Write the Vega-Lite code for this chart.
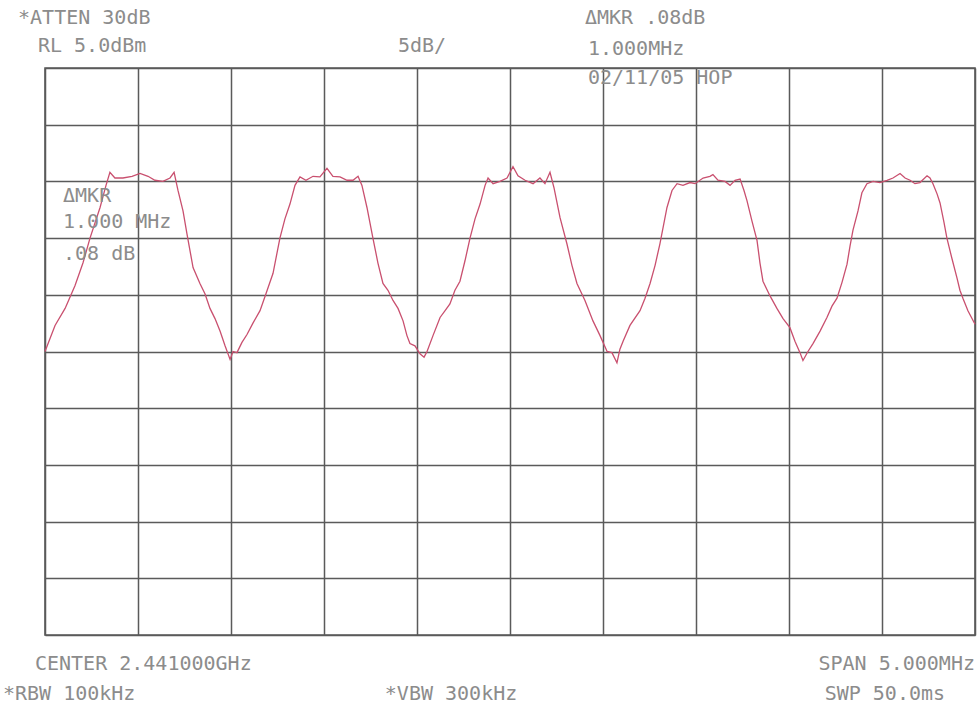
{
  "$schema": "https://vega.github.io/schema/vega-lite/v6.json",
  "width": 930,
  "height": 567,
  "autosize": {"type": "none"},
  "padding": {"left": 45, "top": 68, "right": 3, "bottom": 81},
  "background": "#ffffff",
  "config": {"view": {"stroke": "#5a5a5a", "strokeWidth": 1.6}},
  "datasets": {
    "trace": [
      {"freq": 2438.500, "dbm": -20.0}, {"freq": 2438.554, "dbm": -17.7}, {"freq": 2438.608, "dbm": -16.2},
      {"freq": 2438.661, "dbm": -14.2}, {"freq": 2438.704, "dbm": -12.2}, {"freq": 2438.742, "dbm": -10.0},
      {"freq": 2438.796, "dbm": -7.3}, {"freq": 2438.828, "dbm": -5.35}, {"freq": 2438.849, "dbm": -4.2},
      {"freq": 2438.876, "dbm": -4.7}, {"freq": 2438.919, "dbm": -4.7}, {"freq": 2438.968, "dbm": -4.55},
      {"freq": 2439.011, "dbm": -4.3}, {"freq": 2439.054, "dbm": -4.55}, {"freq": 2439.091, "dbm": -4.9},
      {"freq": 2439.134, "dbm": -5.0}, {"freq": 2439.172, "dbm": -4.7}, {"freq": 2439.194, "dbm": -4.2},
      {"freq": 2439.215, "dbm": -5.8}, {"freq": 2439.242, "dbm": -7.6}, {"freq": 2439.263, "dbm": -9.6},
      {"freq": 2439.296, "dbm": -12.6}, {"freq": 2439.333, "dbm": -14.0}, {"freq": 2439.360, "dbm": -14.9},
      {"freq": 2439.387, "dbm": -16.2}, {"freq": 2439.414, "dbm": -17.1}, {"freq": 2439.441, "dbm": -18.2},
      {"freq": 2439.468, "dbm": -19.5}, {"freq": 2439.495, "dbm": -20.7}, {"freq": 2439.511, "dbm": -20.0},
      {"freq": 2439.532, "dbm": -20.1}, {"freq": 2439.559, "dbm": -19.2}, {"freq": 2439.586, "dbm": -18.5},
      {"freq": 2439.618, "dbm": -17.5}, {"freq": 2439.656, "dbm": -16.4}, {"freq": 2439.688, "dbm": -14.9},
      {"freq": 2439.726, "dbm": -13.1}, {"freq": 2439.763, "dbm": -10.0}, {"freq": 2439.790, "dbm": -8.3},
      {"freq": 2439.817, "dbm": -7.0}, {"freq": 2439.844, "dbm": -5.35}, {"freq": 2439.871, "dbm": -4.6},
      {"freq": 2439.903, "dbm": -4.9}, {"freq": 2439.941, "dbm": -4.55}, {"freq": 2439.978, "dbm": -4.6},
      {"freq": 2440.016, "dbm": -3.85}, {"freq": 2440.048, "dbm": -4.55}, {"freq": 2440.086, "dbm": -4.6},
      {"freq": 2440.124, "dbm": -4.9}, {"freq": 2440.156, "dbm": -4.9}, {"freq": 2440.183, "dbm": -4.55},
      {"freq": 2440.204, "dbm": -5.35}, {"freq": 2440.231, "dbm": -7.3}, {"freq": 2440.263, "dbm": -10.0},
      {"freq": 2440.290, "dbm": -12.2}, {"freq": 2440.317, "dbm": -14.0}, {"freq": 2440.344, "dbm": -14.6},
      {"freq": 2440.371, "dbm": -15.5}, {"freq": 2440.398, "dbm": -16.2}, {"freq": 2440.425, "dbm": -17.3},
      {"freq": 2440.446, "dbm": -18.6}, {"freq": 2440.462, "dbm": -19.3}, {"freq": 2440.489, "dbm": -19.5},
      {"freq": 2440.516, "dbm": -20.2}, {"freq": 2440.538, "dbm": -20.5}, {"freq": 2440.554, "dbm": -20.0},
      {"freq": 2440.586, "dbm": -18.6}, {"freq": 2440.624, "dbm": -17.0}, {"freq": 2440.651, "dbm": -16.4},
      {"freq": 2440.677, "dbm": -15.8}, {"freq": 2440.704, "dbm": -14.6}, {"freq": 2440.731, "dbm": -13.8},
      {"freq": 2440.758, "dbm": -12.0}, {"freq": 2440.785, "dbm": -10.0}, {"freq": 2440.812, "dbm": -8.3},
      {"freq": 2440.839, "dbm": -7.0}, {"freq": 2440.866, "dbm": -5.35}, {"freq": 2440.882, "dbm": -4.7},
      {"freq": 2440.909, "dbm": -5.2}, {"freq": 2440.946, "dbm": -5.0}, {"freq": 2440.984, "dbm": -4.7},
      {"freq": 2441.016, "dbm": -3.7}, {"freq": 2441.043, "dbm": -4.5}, {"freq": 2441.081, "dbm": -4.9},
      {"freq": 2441.124, "dbm": -5.2}, {"freq": 2441.161, "dbm": -4.7}, {"freq": 2441.188, "dbm": -5.2},
      {"freq": 2441.215, "dbm": -4.2}, {"freq": 2441.237, "dbm": -5.6}, {"freq": 2441.269, "dbm": -8.2},
      {"freq": 2441.306, "dbm": -10.5}, {"freq": 2441.333, "dbm": -12.4}, {"freq": 2441.360, "dbm": -14.0},
      {"freq": 2441.403, "dbm": -15.5}, {"freq": 2441.446, "dbm": -17.3}, {"freq": 2441.484, "dbm": -18.6},
      {"freq": 2441.522, "dbm": -20.0}, {"freq": 2441.548, "dbm": -20.1}, {"freq": 2441.575, "dbm": -21.0},
      {"freq": 2441.591, "dbm": -19.8}, {"freq": 2441.608, "dbm": -19.1}, {"freq": 2441.645, "dbm": -17.7},
      {"freq": 2441.699, "dbm": -16.4}, {"freq": 2441.726, "dbm": -15.3}, {"freq": 2441.753, "dbm": -14.0},
      {"freq": 2441.780, "dbm": -12.4}, {"freq": 2441.806, "dbm": -10.5}, {"freq": 2441.844, "dbm": -7.3},
      {"freq": 2441.871, "dbm": -5.8}, {"freq": 2441.898, "dbm": -5.2}, {"freq": 2441.930, "dbm": -5.35},
      {"freq": 2441.968, "dbm": -5.1}, {"freq": 2441.995, "dbm": -5.2}, {"freq": 2442.038, "dbm": -4.7},
      {"freq": 2442.075, "dbm": -4.55}, {"freq": 2442.091, "dbm": -4.4}, {"freq": 2442.118, "dbm": -4.9},
      {"freq": 2442.156, "dbm": -5.0}, {"freq": 2442.183, "dbm": -5.35}, {"freq": 2442.210, "dbm": -4.9},
      {"freq": 2442.237, "dbm": -4.8}, {"freq": 2442.258, "dbm": -5.8}, {"freq": 2442.274, "dbm": -6.7},
      {"freq": 2442.301, "dbm": -8.5}, {"freq": 2442.328, "dbm": -10.2}, {"freq": 2442.344, "dbm": -12.2},
      {"freq": 2442.360, "dbm": -13.8}, {"freq": 2442.398, "dbm": -15.1}, {"freq": 2442.435, "dbm": -16.2},
      {"freq": 2442.468, "dbm": -17.1}, {"freq": 2442.505, "dbm": -17.9}, {"freq": 2442.532, "dbm": -19.1},
      {"freq": 2442.559, "dbm": -20.1}, {"freq": 2442.575, "dbm": -20.8}, {"freq": 2442.602, "dbm": -20.0},
      {"freq": 2442.629, "dbm": -19.3}, {"freq": 2442.667, "dbm": -18.2}, {"freq": 2442.704, "dbm": -17.0},
      {"freq": 2442.731, "dbm": -16.0}, {"freq": 2442.758, "dbm": -15.3}, {"freq": 2442.785, "dbm": -13.9},
      {"freq": 2442.812, "dbm": -12.3}, {"freq": 2442.828, "dbm": -10.7}, {"freq": 2442.844, "dbm": -9.3},
      {"freq": 2442.871, "dbm": -7.6}, {"freq": 2442.892, "dbm": -6.0}, {"freq": 2442.919, "dbm": -5.2},
      {"freq": 2442.952, "dbm": -5.0}, {"freq": 2442.989, "dbm": -5.1}, {"freq": 2443.027, "dbm": -4.9},
      {"freq": 2443.059, "dbm": -4.7}, {"freq": 2443.097, "dbm": -4.3}, {"freq": 2443.124, "dbm": -4.7},
      {"freq": 2443.151, "dbm": -4.9}, {"freq": 2443.177, "dbm": -5.2}, {"freq": 2443.204, "dbm": -5.1},
      {"freq": 2443.242, "dbm": -4.5}, {"freq": 2443.258, "dbm": -4.7}, {"freq": 2443.274, "dbm": -5.2},
      {"freq": 2443.296, "dbm": -6.1}, {"freq": 2443.312, "dbm": -6.9}, {"freq": 2443.333, "dbm": -8.6},
      {"freq": 2443.349, "dbm": -10.0}, {"freq": 2443.376, "dbm": -11.8}, {"freq": 2443.403, "dbm": -13.5},
      {"freq": 2443.419, "dbm": -14.6}, {"freq": 2443.435, "dbm": -15.3}, {"freq": 2443.462, "dbm": -16.4},
      {"freq": 2443.500, "dbm": -17.6}
    ],
    "notesLeft": [
      {"label": "*ATTEN 30dB", "tx": 2438.355, "ty": 9.4},
      {"label": "RL 5.0dBm", "tx": 2438.462, "ty": 6.9},
      {"label": "ΔMKR .08dB", "tx": 2441.403, "ty": 9.4},
      {"label": "1.000MHz", "tx": 2441.419, "ty": 6.7},
      {"label": "02/11/05 HOP", "tx": 2441.419, "ty": 4.1},
      {"label": "ΔMKR", "tx": 2438.597, "ty": -6.3},
      {"label": "1.000 MHz", "tx": 2438.597, "ty": -8.6},
      {"label": ".08 dB", "tx": 2438.597, "ty": -11.4},
      {"label": "CENTER 2.441000GHz", "tx": 2438.446, "ty": -47.6},
      {"label": "*RBW 100kHz", "tx": 2438.274, "ty": -50.2}
    ],
    "notesCenter": [
      {"label": "5dB/", "tx": 2440.527, "ty": 6.9},
      {"label": "*VBW 300kHz", "tx": 2440.683, "ty": -50.2}
    ],
    "notesRight": [
      {"label": "SPAN 5.000MHz", "tx": 2443.5, "ty": -47.6},
      {"label": "SWP 50.0ms", "tx": 2443.339, "ty": -50.2}
    ]
  },
  "layer": [
    {
      "data": {"name": "trace"},
      "mark": {"type": "line", "color": "#c9506f", "strokeWidth": 1.3, "interpolate": "linear"},
      "encoding": {
        "x": {
          "field": "freq", "type": "quantitative",
          "scale": {"domain": [2438.5, 2443.5], "nice": false, "zero": false},
          "axis": {
            "title": null, "labels": false, "ticks": false, "domain": false,
            "grid": true, "gridColor": "#5a5a5a", "gridWidth": 1.5, "gridOpacity": 1,
            "values": [2438.5, 2439, 2439.5, 2440, 2440.5, 2441, 2441.5, 2442, 2442.5, 2443, 2443.5]
          }
        },
        "y": {
          "field": "dbm", "type": "quantitative",
          "scale": {"domain": [-45, 5], "nice": false, "zero": false},
          "axis": {
            "title": null, "labels": false, "ticks": false, "domain": false,
            "grid": true, "gridColor": "#5a5a5a", "gridWidth": 1.5, "gridOpacity": 1,
            "values": [5, 0, -5, -10, -15, -20, -25, -30, -35, -40, -45]
          }
        }
      }
    },
    {
      "data": {"name": "notesLeft"},
      "mark": {"type": "text", "font": "DejaVu Sans Mono", "fontSize": 20, "color": "#8c8c8c", "align": "left", "baseline": "middle", "clip": false},
      "encoding": {
        "x": {"field": "tx", "type": "quantitative"},
        "y": {"field": "ty", "type": "quantitative"},
        "text": {"field": "label", "type": "nominal"}
      }
    },
    {
      "data": {"name": "notesCenter"},
      "mark": {"type": "text", "font": "DejaVu Sans Mono", "fontSize": 20, "color": "#8c8c8c", "align": "center", "baseline": "middle", "clip": false},
      "encoding": {
        "x": {"field": "tx", "type": "quantitative"},
        "y": {"field": "ty", "type": "quantitative"},
        "text": {"field": "label", "type": "nominal"}
      }
    },
    {
      "data": {"name": "notesRight"},
      "mark": {"type": "text", "font": "DejaVu Sans Mono", "fontSize": 20, "color": "#8c8c8c", "align": "right", "baseline": "middle", "clip": false},
      "encoding": {
        "x": {"field": "tx", "type": "quantitative"},
        "y": {"field": "ty", "type": "quantitative"},
        "text": {"field": "label", "type": "nominal"}
      }
    }
  ]
}
